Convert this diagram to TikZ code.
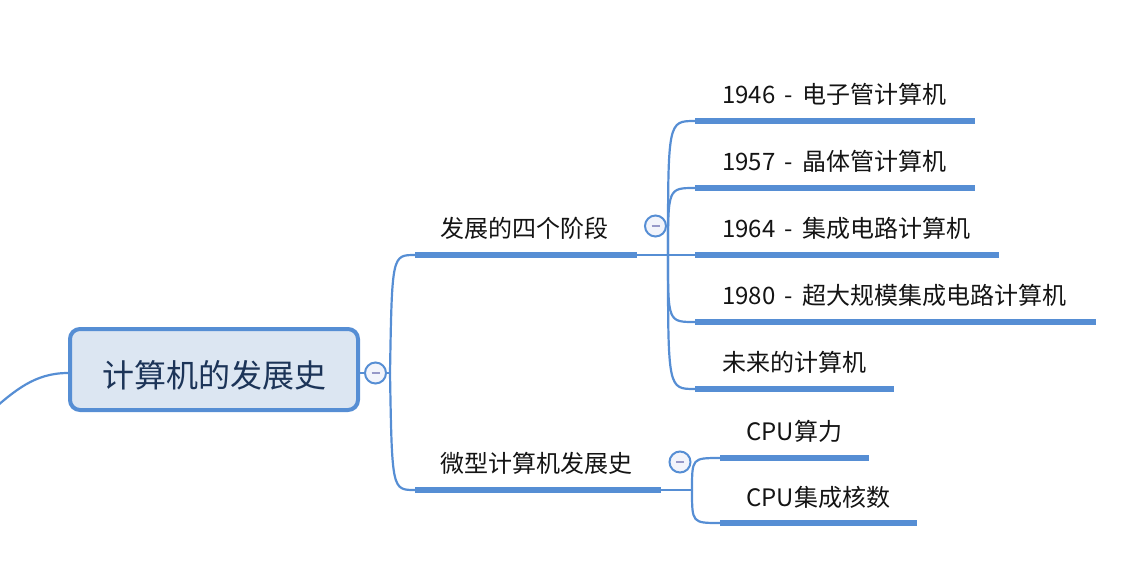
\documentclass[tikz,border=0pt]{standalone}
\usepackage{fontspec}
\setmainfont{Noto Sans CJK SC}
\newfontfamily\topicfont[WordSpace=1.75]{Noto Sans CJK SC}
\definecolor{mapblue}{RGB}{86,142,212}
\definecolor{rootfill}{RGB}{220,230,242}
\definecolor{roottext}{RGB}{28,52,88}
\definecolor{foldfill}{RGB}{242,244,251}
\definecolor{foldmark}{RGB}{150,152,200}

\begin{document}
\begin{tikzpicture}[x=1pt,y=-1pt,
  topic/.style={anchor=base west, inner sep=0pt, text=black!92,
    font=\topicfont\fontsize{24}{28}\selectfont},
  under/.style={draw=mapblue, line width=6.5pt},
  link/.style={draw=mapblue, line width=2.2pt},
  fold/.style={circle, draw=mapblue, line width=2pt, fill=foldfill,
    minimum size=21pt, inner sep=0pt,
    path picture={\draw[foldmark, line width=2pt]
      ([xshift=-4pt]path picture bounding box.center) --
      ([xshift=4pt]path picture bounding box.center);}},
  rootbox/.style={draw=mapblue, line width=4pt, fill=rootfill,
    rounded corners=10pt, minimum width=288pt, minimum height=81pt,
    text height=36pt, text depth=1pt, inner sep=0pt, text=roottext,
    font=\fontsize{32}{38}\selectfont}]

\clip (0,0) rectangle (1126,584);

% central topic
\node[rootbox] (root) at (214,369.5) {计算机的发展史};
\coordinate (rootin) at ([yshift=-3.5pt]root.west);
\coordinate (rootout) at ([yshift=-3.5pt]root.east);
\coordinate (upstream) at (-12,414);
\draw[link] (rootin) .. controls (35,373) and (15,390) .. (upstream);

% fold button and main trunk
\node[fold] (f0) at (375.5,373) {};
\coordinate (j0) at (390,373);
\draw[link] (rootout) -- (f0.west);
\draw[link] (f0.east) -- (j0);

% branch: 发展的四个阶段
\coordinate (b1s) at (415,255);
\coordinate (b1e) at (637,255);
\node[topic] (b1) at (440,237) {发展的四个阶段};
\draw[under] (b1s) -- (b1e);
\draw[link] (j0) .. controls (392,255) .. (b1s);
\node[fold] (f1) at (655.5,226) {};
\coordinate (j1) at (668,255);
\draw[link] (b1e) -- (j1);

\coordinate (c1s) at (695,121); \coordinate (c1e) at (975,121);
\coordinate (c2s) at (695,188); \coordinate (c2e) at (975,188);
\coordinate (c3s) at (695,255); \coordinate (c3e) at (999,255);
\coordinate (c4s) at (695,322); \coordinate (c4e) at (1096,322);
\coordinate (c5s) at (695,389); \coordinate (c5e) at (894,389);

\node[topic] (c1) at (722,103) {1946 - 电子管计算机};
\node[topic] (c2) at (722,170) {1957 - 晶体管计算机};
\node[topic] (c3) at (722,237) {1964 - 集成电路计算机};
\node[topic] (c4) at (722,304) {1980 - 超大规模集成电路计算机};
\node[topic] (c5) at (722,371) {未来的计算机};

\foreach \c in {c1,c2,c3,c4,c5}{\draw[under] (\c s) -- (\c e);}
\draw[link] (j1) .. controls (668,121) .. (c1s);
\draw[link] (j1) .. controls (668,188) .. (c2s);
\draw[link] (j1) -- (c3s);
\draw[link] (j1) .. controls (668,322) .. (c4s);
\draw[link] (j1) .. controls (668,389) .. (c5s);

% branch: 微型计算机发展史
\coordinate (b2s) at (415,490);
\coordinate (b2e) at (661,490);
\node[topic] (b2) at (440,472) {微型计算机发展史};
\draw[under] (b2s) -- (b2e);
\draw[link] (j0) .. controls (392,490) .. (b2s);
\node[fold] (f2) at (680,462) {};
\coordinate (j2) at (692,490);
\draw[link] (b2e) -- (j2);

\coordinate (d1s) at (720,458); \coordinate (d1e) at (869,458);
\coordinate (d2s) at (720,523); \coordinate (d2e) at (917,523);
\node[topic] (d1) at (746,440) {CPU算力};
\node[topic] (d2) at (746,506) {CPU集成核数};
\draw[under] (d1s) -- (d1e);
\draw[under] (d2s) -- (d2e);
\draw[link] (j2) .. controls (692,458) .. (d1s);
\draw[link] (j2) .. controls (692,523) .. (d2s);
\end{tikzpicture}
\end{document}
